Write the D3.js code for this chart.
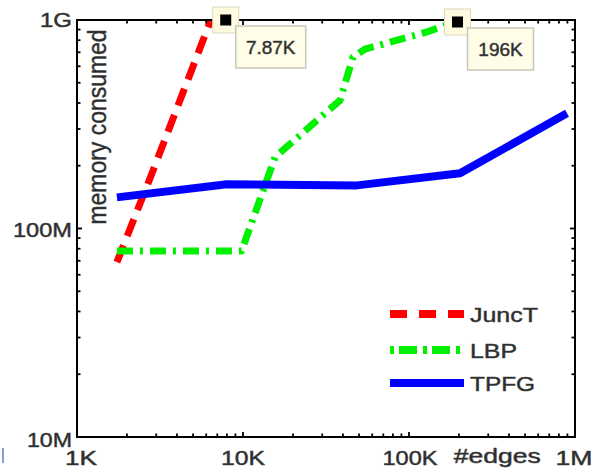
<!DOCTYPE html>
<html><head><meta charset="utf-8">
<script src="https://cdn.jsdelivr.net/npm/d3@7"></script>
<style>
html,body{margin:0;padding:0;background:#fff;}
svg{display:block;}
text{font-family:"Liberation Sans",Arial,sans-serif;fill:#2a2a2a;stroke:#444;stroke-width:0.5px;}
</style></head><body>
<svg id="chart" width="594" height="470"></svg>
<script>
// ---- data (edges in K, memory in MB) ----
const juncTEdges = [1.74, 2.83, 6.4];
const juncTMem   = [69, 184, 1000];
const lbpEdges   = [1.74, 9.8, 15.6, 38.4, 46, 54.3, 128, 189];
const lbpMem     = [78, 78, 220, 412, 664, 725, 876, 978];
const tpfgEdges  = [1.74, 8.0, 48.6, 203, 895];
const tpfgMem    = [141, 163, 161, 184, 357];
const markerEdges = [7.87, 196];
const markerLabels = ["7.87K", "196K"];
const xTickValues = [1, 10, 100, 1000];
const xTickLabels = ["1K", "10K", "100K", "1M"];
const yTickValues = [10, 100, 1000];
const yTickLabels = ["10M", "100M", "1G"];
const seriesNames = ["JuncT", "LBP", "TPFG"];

const svg = d3.select("#chart");
const L = 77, R = 575, T = 20, B = 437;
const x = d3.scaleLog().domain([1, 1000]).range([L, R]);
const y = d3.scaleLog().domain([10, 1000]).range([B, T]);

svg.append("defs").append("clipPath").attr("id", "clip")
  .append("rect").attr("x", L).attr("y", T).attr("width", R - L).attr("height", B - T);

const styles = [
  {color: "#ff0000", width: 7, dash: "18,10"},
  {color: "#00f000", width: 7, dash: "16,7,3,7"},
  {color: "#0000ff", width: 8, dash: null}
];
const series = [
  juncTEdges.map((e, i) => [e, juncTMem[i]]),
  lbpEdges.map((e, i) => [e, lbpMem[i]]),
  tpfgEdges.map((e, i) => [e, tpfgMem[i]])
];
const line = d3.line().x(d => x(d[0])).y(d => y(d[1]));
const g = svg.append("g").attr("clip-path", "url(#clip)");
series.forEach((s, i) => {
  const p = g.append("path").datum(s).attr("d", line)
    .attr("fill", "none").attr("stroke", styles[i].color)
    .attr("stroke-width", styles[i].width).attr("stroke-linejoin", "round");
  if (styles[i].dash) p.attr("stroke-dasharray", styles[i].dash);
});

// frame
svg.append("rect").attr("x", L).attr("y", T).attr("width", R - L).attr("height", B - T)
  .attr("fill", "none").attr("stroke", "#000").attr("stroke-width", 2);

// ticks (inward) on all four sides
const isMajor = v => Math.abs(Math.log10(v) - Math.round(Math.log10(v))) < 1e-9;
x.ticks().forEach(v => {
  const len = isMajor(v) ? 5 : 3.5;
  const px = x(v);
  svg.append("line").attr("x1", px).attr("x2", px).attr("y1", B).attr("y2", B - len).attr("stroke", "#000").attr("stroke-width", 1.8);
  svg.append("line").attr("x1", px).attr("x2", px).attr("y1", T).attr("y2", T + len).attr("stroke", "#000").attr("stroke-width", 1.8);
});
y.ticks().forEach(v => {
  const len = isMajor(v) ? 5 : 3.5;
  const py = y(v);
  svg.append("line").attr("x1", L).attr("x2", L + len).attr("y1", py).attr("y2", py).attr("stroke", "#000").attr("stroke-width", 1.8);
  svg.append("line").attr("x1", R).attr("x2", R - len).attr("y1", py).attr("y2", py).attr("stroke", "#000").attr("stroke-width", 1.8);
});

// tick labels
const xLabW = [32, 44, 55, 37];
const xLabDx = [4, 0, 1, -1];
xTickValues.forEach((v, i) => {
  svg.append("text").attr("x", x(v) + xLabDx[i]).attr("y", 465).attr("text-anchor", "middle")
    .attr("font-size", 20).attr("textLength", xLabW[i]).attr("lengthAdjust", "spacingAndGlyphs")
    .text(xTickLabels[i]);
});
svg.append("text").attr("x", x(340)).attr("y", 463).attr("text-anchor", "middle")
  .attr("font-size", 20).attr("textLength", 87).attr("lengthAdjust", "spacingAndGlyphs").text("#edges");
const yLabW = [45, 59, 32];
const yLabDy = [10, 8, 7];
yTickValues.forEach((v, i) => {
  svg.append("text").attr("x", 72).attr("y", y(v) + yLabDy[i]).attr("text-anchor", "end")
    .attr("font-size", 20).attr("textLength", yLabW[i]).attr("lengthAdjust", "spacingAndGlyphs")
    .text(yTickLabels[i]);
});
// y axis title (inside)
svg.append("text").attr("transform", "translate(106,127) rotate(-90)").attr("text-anchor", "middle")
  .attr("font-size", 25).attr("textLength", 195).attr("lengthAdjust", "spacingAndGlyphs")
  .text("memory consumed");

// legend
const legY = [314, 350, 383];
const legDash = ["17,12", "4,5,18,6", null];
const legW = [68, 47, 65];
seriesNames.forEach((n, i) => {
  const ln = svg.append("line").attr("x1", 390).attr("x2", 464).attr("y1", legY[i]).attr("y2", legY[i])
    .attr("stroke", styles[i].color).attr("stroke-width", 8);
  if (legDash[i]) ln.attr("stroke-dasharray", legDash[i]);
  svg.append("text").attr("x", 470).attr("y", legY[i] + 8).attr("font-size", 21)
    .attr("textLength", legW[i]).attr("lengthAdjust", "spacingAndGlyphs").text(n);
});

// markers with annotation boxes
const boxW = [70, 66];
markerEdges.forEach((e, i) => {
  const mx = x(e), my = y(1000) + (i === 1 ? 2 : 0);
  svg.append("rect").attr("x", mx - 13).attr("y", my - 13).attr("width", 26).attr("height", 26)
    .attr("fill", "#fffbe0").attr("stroke", "#dcd8c0").attr("stroke-width", 1);
  svg.append("rect").attr("x", mx - 5.5).attr("y", my - 5.5).attr("width", 11).attr("height", 11).attr("fill", "#000");
  svg.append("rect").attr("x", mx + 10).attr("y", my + 6).attr("width", boxW[i]).attr("height", 42)
    .attr("fill", "#fffde8").attr("stroke", "#c8c8bc").attr("stroke-width", 1.5);
  svg.append("text").attr("x", mx + 10 + boxW[i] / 2).attr("y", my + 34).attr("text-anchor", "middle")
    .attr("font-size", 19).text(markerLabels[i]);
});

// stray fragment at bottom-left edge
svg.append("line").attr("x1", 3).attr("x2", 3).attr("y1", 448).attr("y2", 463)
  .attr("stroke", "#7f9fd8").attr("stroke-width", 2);
</script>
</body></html>
